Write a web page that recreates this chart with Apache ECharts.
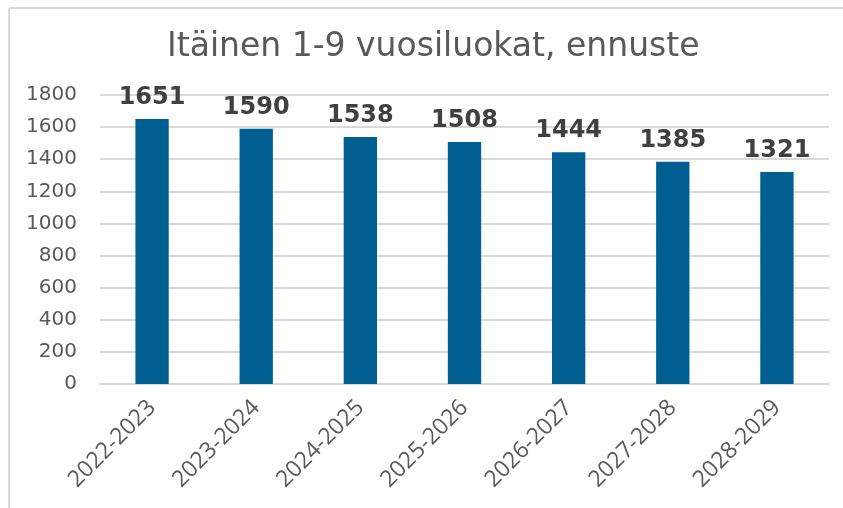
<!DOCTYPE html>
<html>
<head>
<meta charset="utf-8">
<script src="https://cdn.jsdelivr.net/npm/echarts@6/dist/echarts.min.js"></script>
<style>
html,body{margin:0;padding:0;background:#fff;}
#chart{width:843px;height:508px;}
</style>
</head>
<body>
<div id="chart"></div>
<script>
const titleText = 'Itäinen 1-9 vuosiluokat, ennuste';
const categories = ['2022-2023','2023-2024','2024-2025','2025-2026','2026-2027','2027-2028','2028-2029'];
const values = [1651, 1590, 1538, 1508, 1444, 1385, 1321];
const yTicks = [0, 200, 400, 600, 800, 1000, 1200, 1400, 1600, 1800];

const chart = echarts.init(document.getElementById('chart'));
chart.setOption({
  animation: false,
  backgroundColor: '#ffffff',
  graphic: [{
    type: 'rect',
    shape: { x: 9, y: 8, width: 900, height: 600, r: 2 },
    style: { fill: 'none', stroke: '#d9d9d9', lineWidth: 2 },
    silent: true
  }],
  title: {
    text: titleText,
    left: 162,
    top: 26,
    textStyle: { fontFamily: 'DejaVu Sans', fontSize: 33, fontWeight: 'normal', color: '#595959' }
  },
  grid: { left: 100, right: 14, top: 95, bottom: 124, containLabel: false },
  xAxis: {
    type: 'category',
    data: categories,
    axisLine: { show: true, lineStyle: { color: '#d9d9d9', width: 2 } },
    axisTick: { show: false },
    axisLabel: {
      rotate: 45,
      interval: 0,
      margin: 20,
      fontFamily: 'Open Sans',
      fontSize: 23,
      color: '#595959'
    }
  },
  yAxis: {
    type: 'value',
    min: yTicks[0],
    max: yTicks[yTicks.length - 1],
    interval: 200,
    axisLine: { show: false },
    axisTick: { show: false },
    splitLine: { lineStyle: { color: '#d9d9d9', width: 2 } },
    axisLabel: {
      fontFamily: 'DejaVu Sans', fontSize: 20, color: '#595959', margin: 23,
      formatter: function (v) { return String(v); }
    }
  },
  series: [{
    type: 'bar',
    data: values,
    barWidth: '32%',
    itemStyle: { color: '#005e91' },
    label: {
      show: true,
      position: 'top',
      distance: 9,
      fontFamily: 'DejaVu Sans',
      fontWeight: 'bold',
      fontSize: 24,
      color: '#404040'
    }
  }]
});
</script>
</body>
</html>
